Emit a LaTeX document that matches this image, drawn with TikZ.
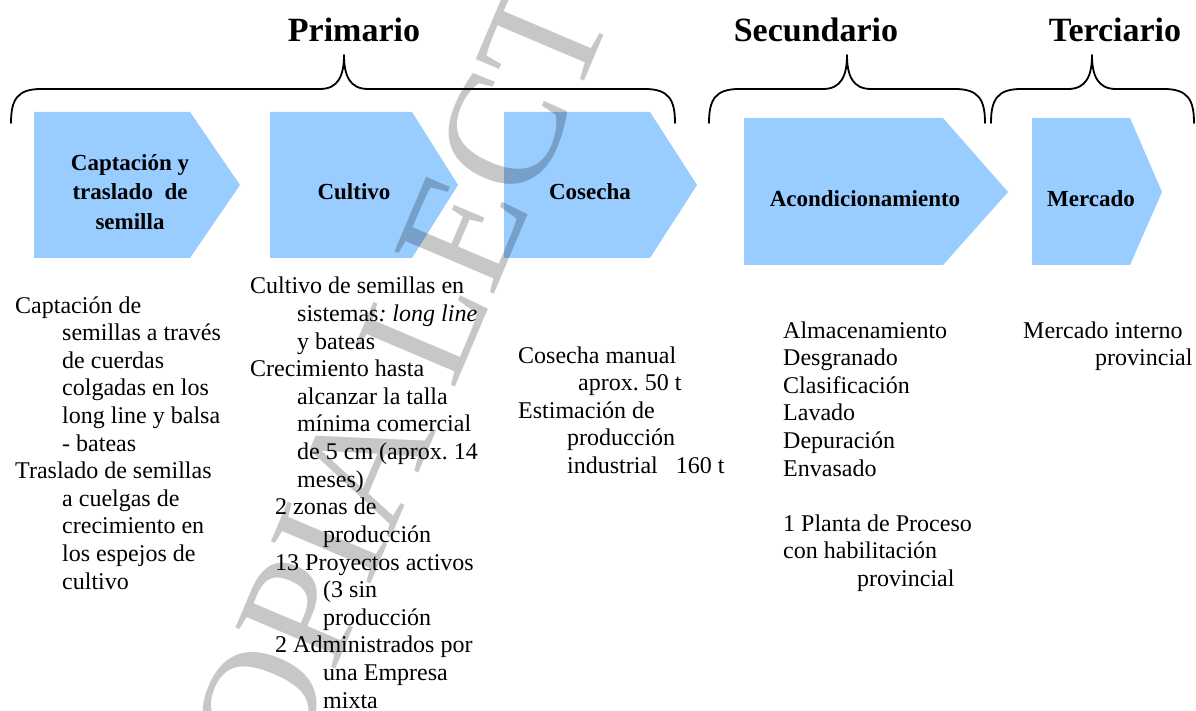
\documentclass[tikz,border=0pt]{standalone}
\usepackage{fontspec}
\setmainfont{Liberation Serif}
\frenchspacing
\definecolor{boxblue}{RGB}{153,204,255}
\newcommand\ind[1]{\hspace*{#1pt}}
\newcommand\stagebrace[3]{%
  \draw[brace] (#1,123) .. controls (#1,100) and (#1+6,89) .. (#1+30,89)
    -- (#2-24,89) .. controls (#2-6,89) and (#2,76) .. (#2,55)
    .. controls (#2,76) and (#2+6,89) .. (#2+24,89)
    -- (#3-30,89) .. controls (#3-6,89) and (#3,100) .. (#3,123);}
\begin{document}
\begin{tikzpicture}[x=1pt,y=-1pt,
  stage/.style={fill=boxblue, draw=none},
  brace/.style={line width=1.8pt, line cap=round, line join=round},
  head/.style={font=\fontsize{34}{40}\selectfont\bfseries, inner sep=0},
  lab/.style={font=\fontsize{23}{29.5}\selectfont\bfseries, align=center, inner sep=0},
  body/.style={font=\fontsize{24}{27.6}\selectfont, anchor=base west, inner sep=0},
  wmark/.style={font=\fontsize{165}{170}\selectfont, text=black, text opacity=0.22, inner sep=0}]
\useasboundingbox (0,0) rectangle (1196,711);
% stage arrows
\fill[stage] (34,112) -- (190,112) -- (240,185) -- (190,258) -- (34,258) -- cycle;
\fill[stage] (270,112) -- (412,112) -- (458,185) -- (412,258) -- (270,258) -- cycle;
\fill[stage] (504,112) -- (650,112) -- (697,185) -- (650,258) -- (504,258) -- cycle;
\fill[stage] (744,118) -- (943,118) -- (1008,192) -- (943,265) -- (744,265) -- cycle;
\fill[stage] (1032,118) -- (1130,118) -- (1162,192) -- (1130,265) -- (1032,265) -- cycle;
% labels in arrows
\node[lab] (l1) at (130,192) {Captación y\\traslado\ \ de\\semilla};
\node[lab] (l2) at (354,192) {Cultivo};
\node[lab] (l3) at (590,192) {Cosecha};
\node[lab] (l4) at (865,199) {Acondicionamiento};
\node[lab] (l5) at (1091,199) {Mercado};
% headers
\node[head] (h1) at (354,30) {Primario};
\node[head] (h2) at (816,30) {Secundario};
\node[head] (h3) at (1115,30) {Terciario};
% braces
\stagebrace{11}{344}{675}
\stagebrace{709}{847}{985}
\stagebrace{991}{1092}{1194}
% descriptions
\node[body] (t1) at (15,313) {\vtop{%
  \hbox{Captación de}
  \hbox{\ind{47}semillas a través}
  \hbox{\ind{47}de cuerdas}
  \hbox{\ind{47}colgadas en los}
  \hbox{\ind{47}long line y balsa}
  \hbox{\ind{47}- bateas}
  \hbox{Traslado de semillas}
  \hbox{\ind{47}a cuelgas de}
  \hbox{\ind{47}crecimiento en}
  \hbox{\ind{47}los espejos de}
  \hbox{\ind{47}cultivo}}};
\node[body] (t2) at (250,294) {\vtop{%
  \hbox{Cultivo de semillas en}
  \hbox{\ind{47}sistemas\textit{: long line}}
  \hbox{\ind{47}y bateas}
  \hbox{Crecimiento hasta}
  \hbox{\ind{47}alcanzar la talla}
  \hbox{\ind{47}mínima comercial}
  \hbox{\ind{47}de 5 cm (aprox. 14}
  \hbox{\ind{47}meses)}
  \hbox{\ind{25}2 zonas de}
  \hbox{\ind{73}producción}
  \hbox{\ind{25}13 Proyectos activos}
  \hbox{\ind{73}(3 sin}
  \hbox{\ind{73}producción}
  \hbox{\ind{25}2 Administrados por}
  \hbox{\ind{73}una Empresa}
  \hbox{\ind{73}mixta}}};
\node[body] (t3) at (518,363) {\vtop{%
  \hbox{Cosecha manual}
  \hbox{\ind{60}aprox. 50 t}
  \hbox{Estimación de}
  \hbox{\ind{49}producción}
  \hbox{\ind{49}industrial\ \ \ 160 t}}};
\node[body] (t4) at (783,338) {\vtop{%
  \hbox{Almacenamiento}
  \hbox{Desgranado}
  \hbox{Clasificación}
  \hbox{Lavado}
  \hbox{Depuración}
  \hbox{Envasado}
  \hbox{}
  \hbox{1 Planta de Proceso}
  \hbox{con habilitación}
  \hbox{\ind{74}provincial}}};
\node[body] (t5) at (1023,338) {\vtop{%
  \hbox{Mercado interno}
  \hbox{\ind{72}provincial}}};
% watermark
\begin{scope}
  \clip (0,0) rectangle (1196,711);
  \node[wmark, rotate=67, anchor=base] (wm) at (497,288) {COPIA LECTURA};
\end{scope}
\end{tikzpicture}
\end{document}
